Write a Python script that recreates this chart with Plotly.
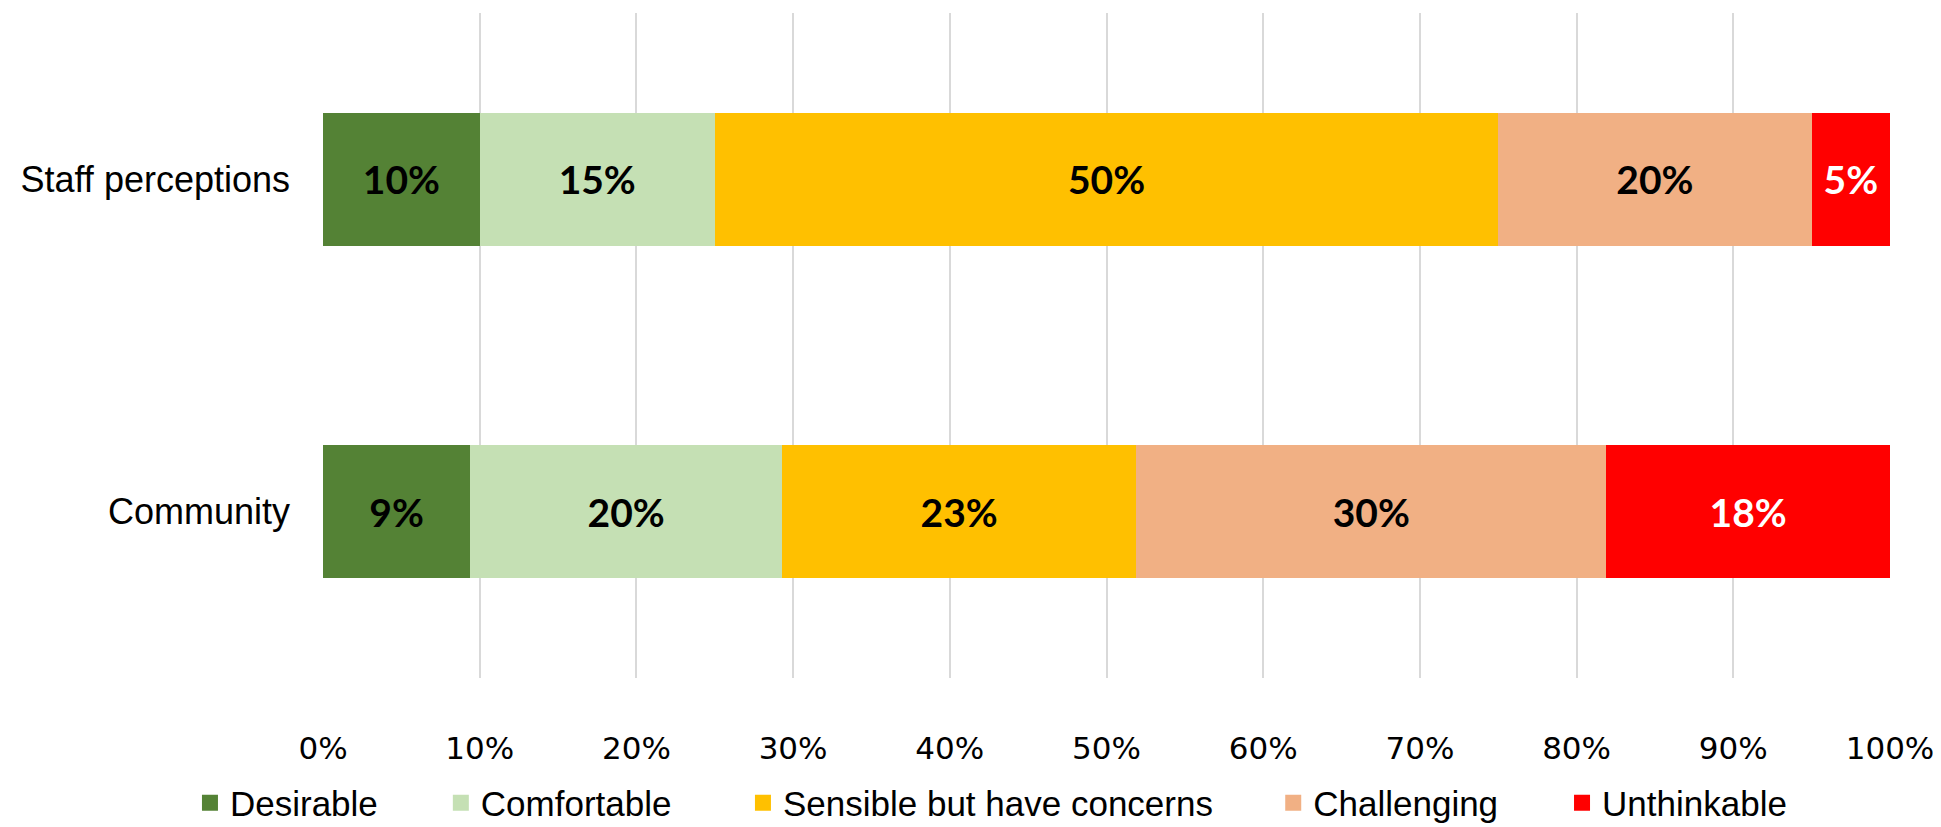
import plotly.graph_objects as go

categories = ["Staff perceptions", "Community"]
series_names = ["Desirable", "Comfortable", "Sensible but have concerns", "Challenging", "Unthinkable"]
desirable = [10, 9.4]
comfortable = [15, 19.9]
sensible = [50, 22.6]
challenging = [20, 30.0]
unthinkable = [5, 18.1]
tick_values = [0, 10, 20, 30, 40, 50, 60, 70, 80, 90, 100]
tick_labels = ["0%", "10%", "20%", "30%", "40%", "50%", "60%", "70%", "80%", "90%", "100%"]

series_values = [desirable, comfortable, sensible, challenging, unthinkable]
colors = ["#548235", "#c5e0b4", "#ffc000", "#f1b084", "#ff0000"]
text_colors = ["#000000", "#000000", "#000000", "#000000", "#ffffff"]
legend_x = [-0.0849, 0.0752, 0.2680, 0.6064, 0.7907]
legend_ids = ["legend", "legend2", "legend3", "legend4", "legend5"]

fig = go.Figure()
for name, vals, col, tcol in zip(series_names, series_values, colors, text_colors):
    fig.add_trace(go.Bar(
        y=categories, x=vals, orientation="h", name=name,
        marker=dict(color=col, line=dict(width=0)),
        texttemplate="%{x:.0f}%", textposition="inside",
        insidetextanchor="middle", textangle=0, constraintext="none",
        textfont=dict(family="Lato", size=39, color=tcol, weight="bold"),
        showlegend=False, hoverinfo="skip",
    ))

for name, col, lid in zip(series_names, colors, legend_ids):
    fig.add_trace(go.Scatter(
        x=[None], y=[None], mode="markers", name=name,
        marker=dict(symbol="square", size=18, color=col),
        showlegend=True, legend=lid,
    ))

layout_legends = {}
for lid, lx in zip(legend_ids, legend_x):
    layout_legends[lid] = dict(
        x=lx, y=-0.188, xanchor="left", yanchor="middle", orientation="h",
        font=dict(family="Liberation Sans", size=35, color="#000000"),
        bgcolor="rgba(0,0,0,0)", itemwidth=30, tracegroupgap=0,
    )

fig.update_layout(
    width=1941, height=827,
    barmode="stack", bargap=0.6,
    plot_bgcolor="white", paper_bgcolor="white",
    margin=dict(l=315, r=59, t=5, b=157, autoexpand=False),
    xaxis=dict(
        range=[0, 100], tickvals=tick_values, ticktext=tick_labels,
        showgrid=True, gridcolor="#d9d9d9", gridwidth=2,
        zeroline=False, showline=False, ticks="",
        ticklabelstandoff=49,
        tickfont=dict(family="DejaVu Sans", size=31, color="#000000"),
        fixedrange=True,
    ),
    yaxis=dict(
        categoryorder="array", categoryarray=categories, autorange="reversed",
        showgrid=False, zeroline=False, showline=False, ticks="",
        ticklabelstandoff=32,
        tickfont=dict(family="Liberation Sans", size=36, color="#000000"),
    ),
    **layout_legends,
)

fig.write_html("out.html")
